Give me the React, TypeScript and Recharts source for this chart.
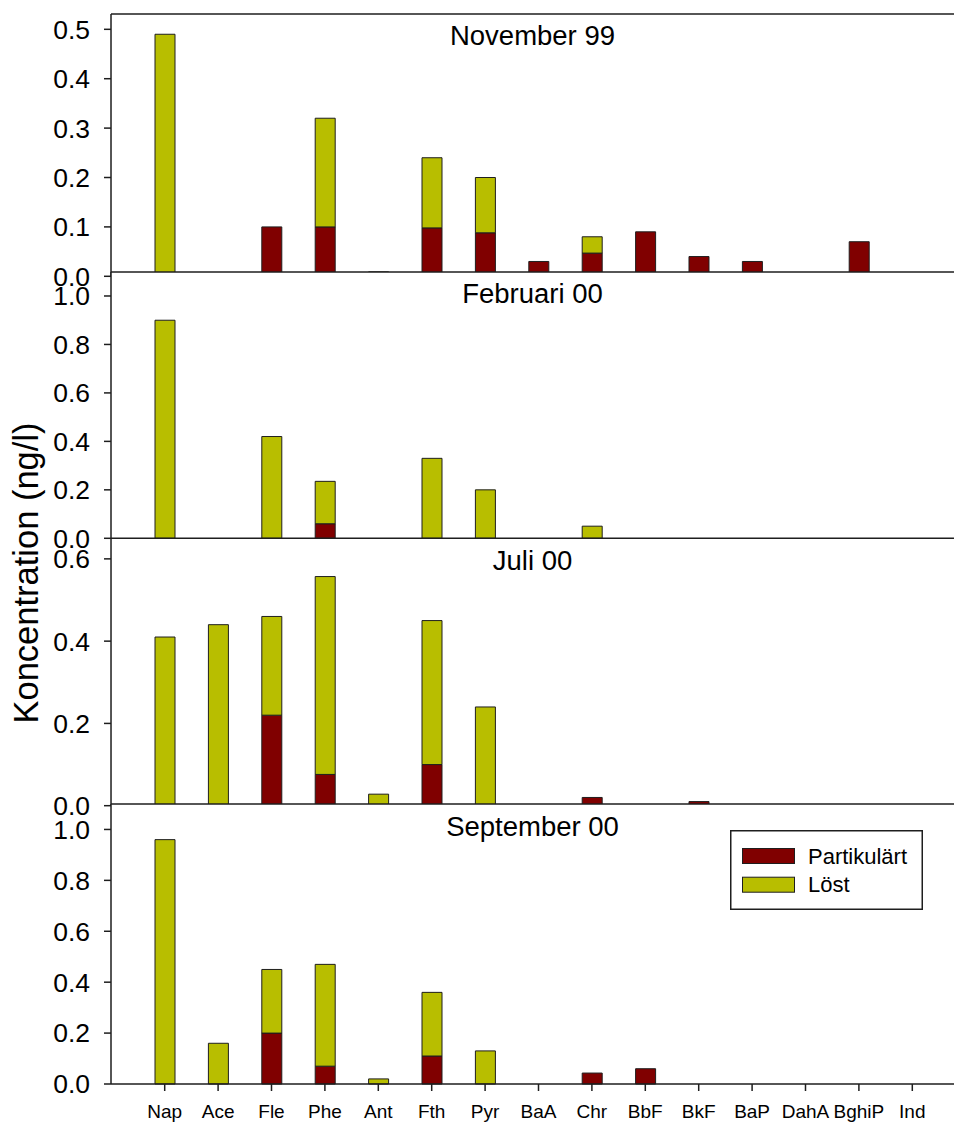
import React from 'react';
import { BarChart, Bar, XAxis, YAxis, ReferenceLine, CartesianGrid } from 'recharts';

const FONT = '"Liberation Sans", Arial, Helvetica, sans-serif';
const PART_COLOR = '#800000';
const LOST_COLOR = '#B8BE00';
const LINE = '#1e1e1e';

// PAH compounds on the category axis
const categories = ['Nap', 'Ace', 'Fle', 'Phe', 'Ant', 'Fth', 'Pyr', 'BaA', 'Chr', 'BbF', 'BkF', 'BaP', 'DahA', 'BghiP', 'Ind'];

// November 99 (ng/l)
const novPartikulart = [0, 0, 0.1, 0.1, 0, 0.098, 0.088, 0.03, 0.047, 0.09, 0.04, 0.03, 0, 0.07, 0];
const novLost = [0.49, 0, 0, 0.22, 0.009, 0.142, 0.112, 0, 0.033, 0, 0, 0, 0, 0, 0];

// Februari 00
const febPartikulart = [0, 0, 0, 0.06, 0, 0, 0, 0, 0, 0, 0, 0, 0, 0, 0];
const febLost = [0.9, 0, 0.42, 0.175, 0, 0.33, 0.2, 0, 0.05, 0, 0, 0, 0, 0, 0];

// Juli 00
const julPartikulart = [0, 0, 0.22, 0.076, 0, 0.1, 0, 0, 0.02, 0, 0.01, 0, 0, 0, 0];
const julLost = [0.41, 0.44, 0.24, 0.481, 0.028, 0.35, 0.24, 0, 0, 0, 0, 0, 0, 0, 0];

// September 00
const sepPartikulart = [0, 0, 0.2, 0.07, 0, 0.11, 0, 0, 0.043, 0.06, 0, 0, 0, 0, 0];
const sepLost = [0.96, 0.16, 0.25, 0.4, 0.02, 0.25, 0.13, 0, 0, 0, 0, 0, 0, 0, 0];

// y-axis tick values per panel
const ticksNov = [0, 0.1, 0.2, 0.3, 0.4, 0.5];
const ticksFeb = [0, 0.2, 0.4, 0.6, 0.8, 1.0];
const ticksJul = [0, 0.2, 0.4, 0.6];
const ticksSep = [0, 0.2, 0.4, 0.6, 0.8, 1.0];

const seriesNames = ['Partikulärt', 'Löst'];

type PanelProps = {
  title: string;
  part: number[];
  lost: number[];
  ticks: number[];
  max: number;
  divTop: number;
  plotTop: number;
  zeroY: number;
  showX: boolean;
};

const PanelTitle = (props: any) => {
  const vb = props.viewBox || { x: 0, y: 0, width: 0 };
  return (
    <text
      x={vb.x + vb.width / 2}
      y={vb.y + 31.5}
      textAnchor="middle"
      fontSize={27.5}
      fontFamily={FONT}
      fill="#000"
    >
      {props.text}
    </text>
  );
};

function Panel({ title, part, lost, ticks, max, divTop, plotTop, zeroY, showX }: PanelProps) {
  const rows = categories.map((name, i) => ({ name, part: part[i], lost: lost[i] }));
  const xHeight = showX ? 40 : 0;
  const bottomMargin = showX ? 0 : 14;
  const height = zeroY - divTop + xHeight + bottomMargin;
  const axisStyle = { stroke: LINE, strokeWidth: 1.5 };
  return (
    <div style={{ position: 'absolute', left: 0, top: divTop }}>
      <BarChart
        width={954}
        height={height}
        data={rows}
        margin={{ top: plotTop - divTop, right: 0, bottom: bottomMargin, left: 0 }}
      >
        <CartesianGrid horizontal={false} vertical={false} fill="#ffffff" fillOpacity={1} />
        <XAxis
          dataKey="name"
          hide={!showX}
          height={xHeight}
          interval={0}
          padding={{ left: 27, right: 15 }}
          tickSize={7}
          tickMargin={14}
          axisLine={axisStyle}
          tickLine={axisStyle}
          tick={{ fontSize: 19, fill: '#000', fontFamily: FONT }}
        />
        <YAxis
          type="number"
          domain={[0, max]}
          ticks={ticks}
          interval={0}
          width={111}
          tickSize={7}
          tickMargin={14}
          tickFormatter={(v: number) => v.toFixed(1)}
          axisLine={axisStyle}
          tickLine={axisStyle}
          tick={{ fontSize: 26.5, fill: '#000', fontFamily: FONT }}
        />
        <ReferenceLine
          y={max}
          stroke={LINE}
          strokeWidth={1.5}
          label={(p: any) => <PanelTitle {...p} text={title} />}
        />
        <Bar
          dataKey="part"
          name={seriesNames[0]}
          stackId="s"
          fill={PART_COLOR}
          stroke={LINE}
          strokeWidth={1}
          barSize={20}
          isAnimationActive={false}
        />
        <Bar
          dataKey="lost"
          name={seriesNames[1]}
          stackId="s"
          fill={LOST_COLOR}
          stroke={LINE}
          strokeWidth={1}
          barSize={20}
          isAnimationActive={false}
        />
      </BarChart>
    </div>
  );
}

function LegendBox() {
  const colors = [PART_COLOR, LOST_COLOR];
  return (
    <svg
      style={{ position: 'absolute', left: 730, top: 830 }}
      width={194}
      height={81}
    >
      <rect x={0.75} y={0.75} width={191.5} height={78.5} fill="#fff" stroke={LINE} strokeWidth={1.5} />
      {seriesNames.map((n, i) => (
        <g key={n}>
          <rect x={12.5} y={18.5 + i * 28.7} width={52} height={15} fill={colors[i]} stroke={LINE} strokeWidth={1} />
          <text x={78} y={33.5 + i * 28.4} fontSize={22} fontFamily={FONT} fill="#000">
            {n}
          </text>
        </g>
      ))}
    </svg>
  );
}

export default function App() {
  return (
    <div
      style={{
        position: 'absolute',
        left: 0,
        top: 0,
        width: 954,
        height: 1122,
        overflow: 'hidden',
        background: '#fff',
        fontFamily: FONT,
      }}
    >
      <Panel title="November 99" part={novPartikulart} lost={novLost} ticks={ticksNov} max={0.531} divTop={0} plotTop={14} zeroY={276.3} showX={false} />
      <Panel title="Februari 00" part={febPartikulart} lost={febLost} ticks={ticksFeb} max={1.099} divTop={250} plotTop={272} zeroY={538.3} showX={false} />
      <Panel title="Juli 00" part={julPartikulart} lost={julLost} ticks={ticksJul} max={0.65} divTop={520} plotTop={538.3} zeroY={805.7} showX={false} />
      <Panel title="September 00" part={sepPartikulart} lost={sepLost} ticks={ticksSep} max={1.1} divTop={780} plotTop={804} zeroY={1084} showX={true} />
      <LegendBox />
      <svg style={{ position: 'absolute', left: 0, top: 0, pointerEvents: 'none' }} width={60} height={1122}>
        <text
          transform="translate(37.5,573) rotate(-90)"
          textAnchor="middle"
          fontSize={34.5}
          fontFamily={FONT}
          fill="#000"
        >
          Koncentration (ng/l)
        </text>
      </svg>
    </div>
  );
}
